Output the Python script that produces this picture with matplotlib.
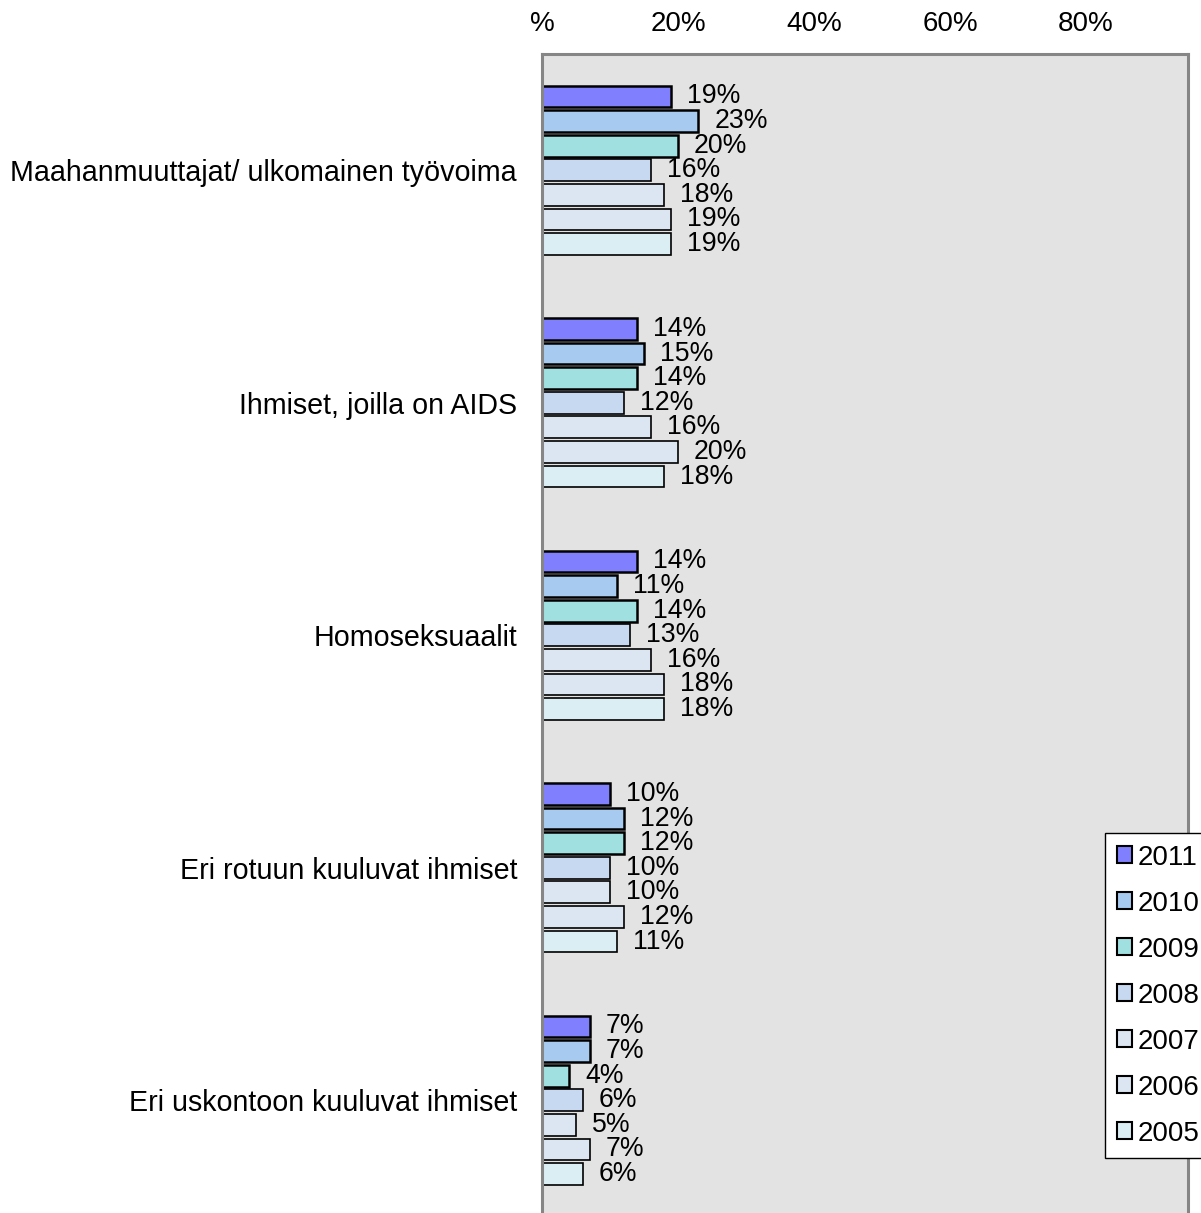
import matplotlib
matplotlib.use("Agg")
import matplotlib.pyplot as plt
import numpy as np
from matplotlib.patches import Patch

plt.rcParams['font.family'] = ['Liberation Sans', 'DejaVu Sans']

categories = [
    "Maahanmuuttajat/ ulkomainen työvoima",
    "Ihmiset, joilla on AIDS",
    "Homoseksuaalit",
    "Eri rotuun kuuluvat ihmiset",
    "Eri uskontoon kuuluvat ihmiset",
]
years = ["2011", "2010", "2009", "2008", "2007", "2006", "2005"]
v2011 = [19, 14, 14, 10, 7]
v2010 = [23, 15, 11, 12, 7]
v2009 = [20, 14, 14, 12, 4]
v2008 = [16, 12, 13, 10, 6]
v2007 = [18, 16, 16, 10, 5]
v2006 = [19, 20, 18, 12, 7]
v2005 = [19, 18, 18, 11, 6]
series = [v2011, v2010, v2009, v2008, v2007, v2006, v2005]
xticks = [0, 20, 40, 60, 80]
xticklabels = ["%", "20%", "40%", "60%", "80%"]

colors = ["#8080FF", "#A6CAF0", "#A0E0E0", "#C6D9F0", "#DCE6F2", "#DCE6F2", "#DAEEF3"]
edge_lw = [1.8, 1.8, 1.8, 1.2, 1.2, 1.2, 1.2]

W, H = 1201, 1213
fig = plt.figure(figsize=(W / 100, H / 100), dpi=100)
ax = fig.add_axes([542 / W, -3.5 / H, 646 / W, (1216.5 - 54) / H])
ax.set_facecolor("#E3E3E3")

slot = 0.1058
bh = 0.094
yc = np.arange(len(categories))
for i, (vals, c, lw) in enumerate(zip(series, colors, edge_lw)):
    ypos = yc + (i - 3) * slot
    ax.barh(ypos, vals, height=bh, color=c, edgecolor="black", linewidth=lw, label=years[i])
    for y, v in zip(ypos, vals):
        ax.annotate(f"{v}%", (v, y), xytext=(11.5, 0), textcoords="offset points",
                    ha="left", va="center", fontsize=19.2)

ax.set_xlim(0, 95)
ax.set_ylim(4.5, -0.5)
ax.xaxis.tick_top()
ax.set_xticks(xticks)
ax.set_xticklabels(xticklabels, fontsize=20)
ax.set_yticks(yc)
ax.set_yticklabels(categories, fontsize=20.6)
ax.tick_params(axis="x", length=0, pad=12)
ax.tick_params(axis="y", length=0, pad=18)

for s in ["left", "right", "bottom", "top"]:
    ax.spines[s].set_color("#868686")
    ax.spines[s].set_linewidth(2.2)

handles = [Patch(facecolor=c, edgecolor="black", linewidth=1.5) for c in colors]
leg = fig.legend(handles, years, loc="upper left", bbox_to_anchor=(1105 / W, 1 - 833 / H),
                 fontsize=20, frameon=True, fancybox=False, shadow=False,
                 handlelength=0.55, handleheight=0.55, handletextpad=0.2,
                 labelspacing=0.72, borderpad=0.42, borderaxespad=0)
leg.get_frame().set_edgecolor("black")
leg.get_frame().set_linewidth(1.0)
leg.get_frame().set_facecolor("white")
leg.get_frame().set_alpha(1)

fig.savefig("out.png", dpi=100)
